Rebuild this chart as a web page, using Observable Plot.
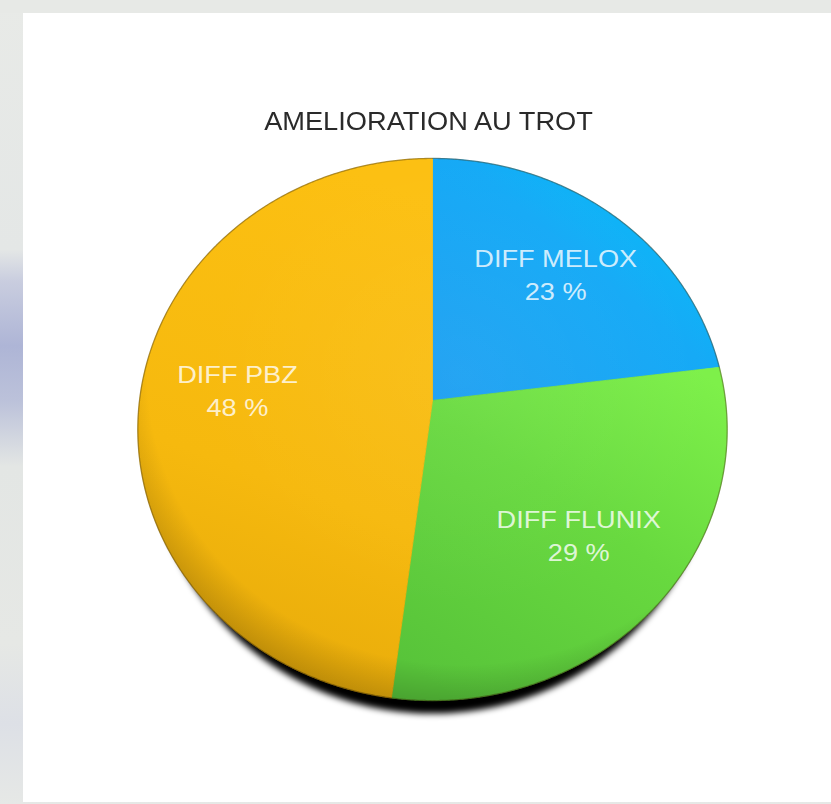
<!DOCTYPE html>
<html>
<head>
<meta charset="utf-8">
<script src="https://cdn.jsdelivr.net/npm/d3@7"></script>
<script src="https://cdn.jsdelivr.net/npm/@observablehq/plot@0.6"></script>
<style>
  html, body { margin: 0; padding: 0; }
  #page {
    position: relative; width: 831px; height: 804px; overflow: hidden;
    background: linear-gradient(180deg, #e8eae7 0%, #e4e7e6 31%, #c9cddf 35%, #aeb5d6 43%, #bcc2da 50%, #e3e6e4 58%, #e6e8e5 80%, #dde0e6 90%, #e6e8e6 100%);
  }
  #topstrip { position: absolute; left: 0; top: 0; width: 831px; height: 13px; background: #e7e9e6; }
  #panel { position: absolute; left: 23px; top: 13px; width: 808px; height: 789px; background: #fff; }
  #chart { position: absolute; left: 0; top: 0; }
</style>
</head>
<body>
<div id="page"><div id="topstrip"></div><div id="panel"></div><div id="chart"></div></div>
<script>
// ---- data ----
const title = "AMELIORATION AU TROT";
const categories = ["DIFF MELOX", "DIFF FLUNIX", "DIFF PBZ"];
const values = [23, 29, 48];
const percentLabels = ["23 %", "29 %", "48 %"];

// ---- styles ----
const fills = ["url(#gMelox)", "url(#gFlunix)", "url(#gPbz)"];
const gradientStops = [
  {id: "gMelox", x1: 0, y1: 1, x2: 1, y2: 0, stops: [[0, "#1b9ef1"], [0.55, "#15aaf6"], [0.85, "#08bcf8"], [1, "#00cafb"]]},
  {id: "gFlunix", x1: 0.9, y1: 0, x2: 0.2, y2: 1, stops: [[0, "#7ef04a"], [0.45, "#68d93f"], [1, "#58c43a"]]},
  {id: "gPbz", x1: 0.6, y1: 0, x2: 0.4, y2: 1, stops: [[0, "#fcc012"], [0.6, "#f6b90e"], [1, "#e6aa0a"]]}
];
const tilt = 0.107; // perspective of the tilted disc

function proj(u, v) { const s = 1 / (1 + tilt * v); return [u * s, v * s]; }

const arcs = d3.pie().sort(null).value(d => d)(values);

const slicePts = [];
arcs.forEach((a, i) => {
  const cat = categories[i];
  slicePts.push({cat, x: 0, y: 0});
  const n = Math.ceil((a.endAngle - a.startAngle) / 0.004);
  for (let j = 0; j <= n; j++) {
    const t = a.startAngle + (a.endAngle - a.startAngle) * j / n;
    const [x, y] = proj(Math.sin(t), Math.cos(t));
    slicePts.push({cat, x, y});
  }
  slicePts.push({cat, x: 0, y: 0});
});

const disc = d3.range(0, 721).map(j => {
  const t = j / 720 * 2 * Math.PI;
  const [x, y] = proj(Math.sin(t), Math.cos(t));
  return {x, y};
});
const shadow = disc.map(d => ({x: d.x * 0.955, y: d.y}));

const labels = arcs.map((a, i) => {
  const m = (a.startAngle + a.endAngle) / 2;
  const r = 0.67;
  const [x, y] = proj(r * Math.sin(m), r * Math.cos(m));
  return {x, y, text: categories[i] + "\n" + percentLabels[i]};
});

const cx = 432, cy = 400, rx = 293, ry = 268;

const chart = Plot.plot({
  width: 831,
  height: 804,
  margin: 0,
  style: {background: "transparent", overflow: "visible"},
  x: {domain: [-1, 1], range: [cx - rx, cx + rx], axis: null},
  y: {domain: [-1, 1], range: [cy + ry, cy - ry], axis: null},
  color: {domain: categories, range: fills},
  marks: [
    Plot.line(shadow, {x: "x", y: "y", fill: "#000", stroke: "none", dy: 13}),
    Plot.line(slicePts, {x: "x", y: "y", z: "cat", fill: "cat", stroke: "cat", strokeWidth: 0.8}),
    Plot.line(disc, {x: "x", y: "y", fill: "url(#gShade)", stroke: "none"}),
    Plot.line(disc, {x: "x", y: "y", fill: "none", stroke: "#3a2a00", strokeOpacity: 0.4, strokeWidth: 1.3}),
    Plot.text(labels, {x: "x", y: "y", text: "text", fill: "#ffffff", fillOpacity: 0.8, fontSize: 23, lineHeight: 1.43, lineAnchor: "middle", fontFamily: "Liberation Sans, Arial, sans-serif"}),
    Plot.text([title], {x: () => 0, frameAnchor: "top", dx: -4, dy: 121, lineAnchor: "middle", text: d => d, fill: "#2b2b2b", fontSize: 25, fontFamily: "Liberation Sans, Arial, sans-serif"})
  ]
});

// gradients and filters, built namespace-safe with d3
const svg = d3.select(chart);
const defs = svg.insert("defs", ":first-child");
gradientStops.forEach(g => {
  const lg = defs.append("linearGradient").attr("id", g.id)
    .attr("x1", g.x1).attr("y1", g.y1).attr("x2", g.x2).attr("y2", g.y2);
  g.stops.forEach(([o, c]) => lg.append("stop").attr("offset", o).attr("stop-color", c));
});
const rg = defs.append("radialGradient").attr("id", "gShade").attr("cx", 0.55).attr("cy", 0.4).attr("r", 0.62);
[[0, "#fff", 0.05], [0.7, "#fff", 0], [0.86, "#000", 0], [1, "#000", 0.2]].forEach(([o, c, op]) =>
  rg.append("stop").attr("offset", o).attr("stop-color", c).attr("stop-opacity", op));
const f1 = defs.append("filter").attr("id", "fShadow").attr("x", "-10%").attr("y", "-10%").attr("width", "120%").attr("height", "120%");
f1.append("feGaussianBlur").attr("stdDeviation", 3);
const f2 = defs.append("filter").attr("id", "fRim").attr("x", "-5%").attr("y", "-5%").attr("width", "110%").attr("height", "110%");
f2.append("feGaussianBlur").attr("stdDeviation", 0.6);
const f3 = defs.append("filter").attr("id", "fText").attr("x", "-10%").attr("y", "-30%").attr("width", "120%").attr("height", "160%");
f3.append("feGaussianBlur").attr("stdDeviation", 0.35);

const groups = chart.querySelectorAll(":scope > g");
// order: shadow, slices, shade, rim, labels, title
if (groups[0]) groups[0].setAttribute("filter", "url(#fShadow)");
if (groups[3]) groups[3].setAttribute("filter", "url(#fRim)");
if (groups[4]) groups[4].querySelectorAll("text").forEach(t => {
  t.setAttribute("transform", (t.getAttribute("transform") || "") + " scale(1.18,1)");
});
if (groups[5]) {
  groups[5].querySelectorAll("text").forEach(t => {
    t.setAttribute("transform", (t.getAttribute("transform") || "") + " scale(1.09,1)");
  });
  groups[5].setAttribute("filter", "url(#fText)");
}

document.getElementById("chart").appendChild(chart);
</script>
</body>
</html>
